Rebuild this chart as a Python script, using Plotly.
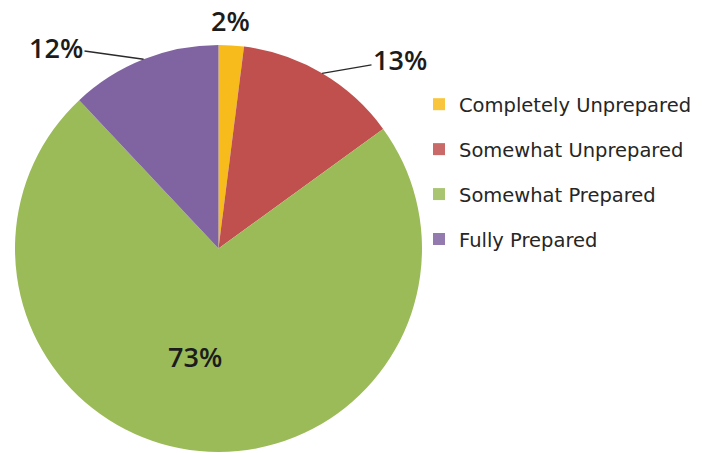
import math
import plotly.graph_objects as go

# Survey responses: how prepared respondents felt
categories = ["Completely Unprepared", "Somewhat Unprepared", "Somewhat Prepared", "Fully Prepared"]
shares = [2, 13, 73, 12]
colors = ["#F7BB1B", "#C0504D", "#9BBB59", "#8064A2"]

W, H = 711, 453

# pie placement in pixels (centre and radius), converted to a paper-domain square
cx, cy, R = 218.5, 248.5, 203.5
dom_x = [(cx - R) / W, (cx + R) / W]
dom_y = [1 - (cy + R) / H, 1 - (cy - R) / H]

fig = go.Figure()
fig.add_trace(go.Pie(
    labels=categories,
    values=shares,
    marker=dict(colors=colors, line=dict(width=0)),
    sort=False,
    direction="clockwise",
    rotation=0,
    textinfo="none",
    hoverinfo="label+percent",
    showlegend=False,
    domain=dict(x=dom_x, y=dom_y),
))

# legend entries (one group each so the gap between rows can be set)
for name, col in zip(categories, colors):
    fig.add_trace(go.Scatter(
        x=[None], y=[None], mode="markers", name=name,
        legendgroup=name,
        marker=dict(symbol="square", size=12, color=col, opacity=0.85),
    ))


def px_to_paper(px, py):
    return px / W, 1 - py / H


def arc_point(i):
    total = sum(shares)
    mid = (sum(shares[:i]) + shares[i] / 2) / total * 2 * math.pi
    return cx + R * math.sin(mid), cy - R * math.cos(mid)


label_font = dict(family="Open Sans", size=27, color="#1c1c1c", weight=600)
total = sum(shares)
pct = [f"{round(100 * v / total)}%" for v in shares]

# 2% above the top of the pie
x, y = px_to_paper(231, 20)
fig.add_annotation(x=x, y=y, xref="paper", yref="paper", text=pct[0],
                   xanchor="center", yanchor="middle",
                   showarrow=False, font=label_font)

# 13% and 12% with leader lines back to the slice
for i, (tx, ty) in [(1, (400, 60)), (3, (56, 47))]:
    ax_px, ay_px = arc_point(i)
    x, y = px_to_paper(ax_px, ay_px)
    fig.add_annotation(x=x, y=y, xref="paper", yref="paper", text=pct[i],
                       showarrow=True, arrowhead=0, arrowwidth=1.4,
                       arrowcolor="#2a2a2a", standoff=0,
                       ax=tx - ax_px, ay=ty - ay_px, font=label_font)

# 73% inside the large slice
x, y = px_to_paper(195, 356)
fig.add_annotation(x=x, y=y, xref="paper", yref="paper", text=pct[2],
                   xanchor="center", yanchor="middle",
                   showarrow=False, font=label_font)

fig.update_layout(
    width=W, height=H,
    margin=dict(l=0, r=0, t=0, b=0),
    paper_bgcolor="white",
    plot_bgcolor="white",
    xaxis=dict(visible=False),
    yaxis=dict(visible=False),
    legend=dict(
        x=419 / W, y=1 - 85 / H, xanchor="left", yanchor="top",
        font=dict(family="DejaVu Sans", size=19.5, color="#262626"),
        tracegroupgap=16.6,
        bgcolor="rgba(0,0,0,0)",
    ),
)

fig.write_html("out.html")
